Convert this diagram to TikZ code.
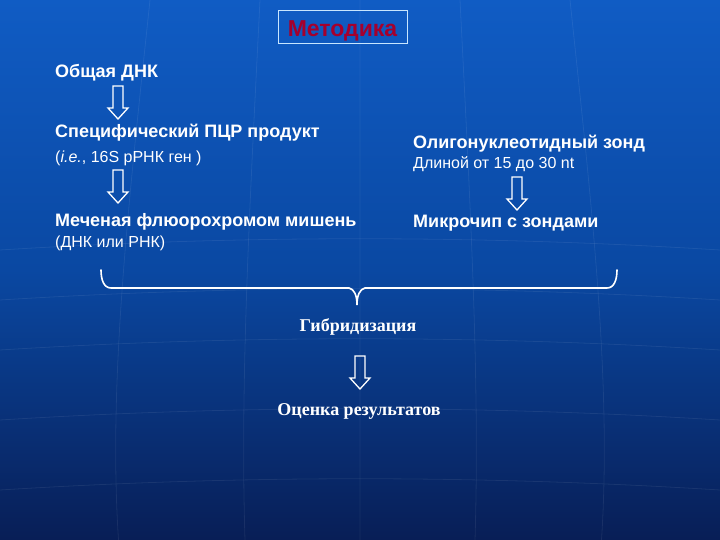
\documentclass[tikz,border=0pt]{standalone}
\usepackage{fontspec}
\setmainfont{Liberation Sans}
\newfontfamily\serifrm{Liberation Serif}
\definecolor{bgtop}{RGB}{16,92,196}
\definecolor{bgmid}{RGB}{10,72,162}
\definecolor{bgbot}{RGB}{8,30,86}
\definecolor{titlered}{RGB}{165,0,45}
\definecolor{boxline}{RGB}{200,230,255}
\tikzset{
  lbl/.style={anchor=west, inner sep=0pt, text=white, font=\fontsize{18}{20}\selectfont\bfseries},
  sublbl/.style={anchor=west, inner sep=0pt, text=white, font=\fontsize{16}{18}\selectfont},
  serlbl/.style={inner sep=0pt, text=white, font=\serifrm\fontsize{18}{20}\selectfont\bfseries},
  arrowline/.style={draw=white, line width=1.3pt, line join=miter},
  harrow/.pic={\draw[arrowline] (-5,0) -- (-5,22) -- (-10,22) -- (0,33) -- (10,22) -- (5,22) -- (5,0) -- cycle;},
  gridline/.style={draw=white, opacity=0.07, line width=0.8pt}
}
\begin{document}
\begin{tikzpicture}[x={(1pt,0)}, y={(0,-1pt)}]
\useasboundingbox (0,0) rectangle (720,540);
\shade[top color=bgtop, bottom color=bgbot, middle color=bgmid] (0,0) rectangle (720,540);
% faint globe grid
\foreach \xx in {150,260,360,460,570} {
  \draw[gridline] (\xx,0) .. controls (\xx+0.1*\xx-36,200) and (\xx+0.2*\xx-72,380) .. (\xx+0.15*\xx-54,540);
}
\foreach \yy in {250,300,350,420,490} {
  \draw[gridline] (0,\yy) .. controls (240,\yy-15) and (480,\yy-15) .. (720,\yy);
}
% title
\draw[boxline, line width=0.8pt] (278,10) rectangle (407,43);
\node[inner sep=0pt, text=titlered, font=\fontsize{23}{25}\selectfont\bfseries] (title) at (342.5,31) {Методика};
% left column
\node[lbl] (dna) at (55,73) {Общая ДНК};
\node[lbl] (pcr) at (55,133) {Специфический ПЦР продукт};
\node[sublbl] (pcrsub) at (55,158) {(\textit{i.e.}, 16S pРНК ген )};
\node[lbl] (target) at (55,222) {Меченая флюорохромом мишень};
\node[sublbl] (targetsub) at (55,243) {(ДНК или РНК)};
% right column
\node[lbl] (probe) at (413,144) {Олигонуклеотидный зонд};
\node[sublbl] (probesub) at (413,164) {Длиной от 15 до 30 nt};
\node[lbl] (chip) at (413,223) {Микрочип с зондами};
% bottom
\node[serlbl] (hyb) at (358,327) {Гибридизация};
\node[serlbl] (eval) at (359,411) {Оценка результатов};
% hollow arrows
\pic at (118,86) {harrow};
\pic at (118,170) {harrow};
\pic at (517,177) {harrow};
\pic at (360,356) {harrow};
% brace
\coordinate (bl) at (101,270);
\coordinate (br) at (617,270);
\coordinate (bv) at (357,305);
\draw[white, line width=1.6pt, line cap=round]
  (bl) .. controls (101,280) and (104,288) .. (111,288) -- (349,288)
  .. controls (354,289) and (357,295) .. (bv)
  .. controls (357,295) and (360,289) .. (365,288) -- (607,288)
  .. controls (614,288) and (617,280) .. (br);
\end{tikzpicture}
\end{document}
